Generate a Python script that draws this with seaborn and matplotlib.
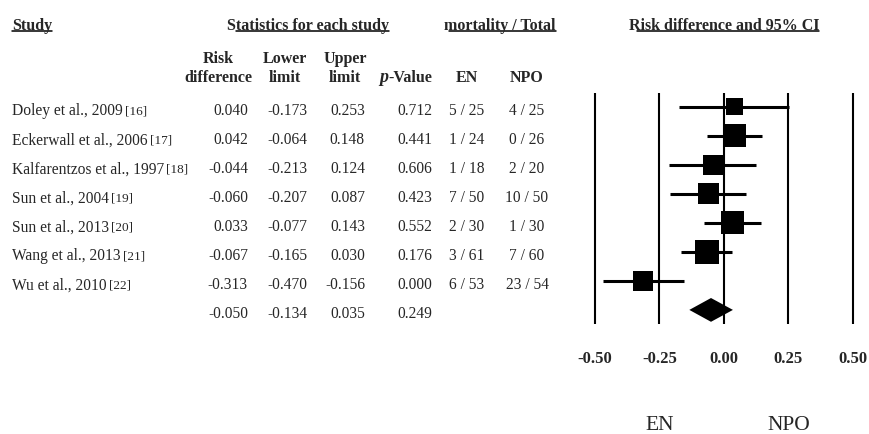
import matplotlib
matplotlib.use("Agg")
import matplotlib.pyplot as plt
import matplotlib.transforms as mtransforms
from matplotlib.lines import Line2D
import seaborn as sns
import numpy as np
import pandas as pd

# ---------------- data ----------------
studies = ["Doley et al., 2009", "Eckerwall et al., 2006", "Kalfarentzos et al., 1997",
           "Sun et al., 2004", "Sun et al., 2013", "Wang et al., 2013", "Wu et al., 2010"]
refs = ["[16]", "[17]", "[18]", "[19]", "[20]", "[21]", "[22]"]
risk_diff = [0.040, 0.042, -0.044, -0.060, 0.033, -0.067, -0.313]
lower = [-0.173, -0.064, -0.213, -0.207, -0.077, -0.165, -0.470]
upper = [0.253, 0.148, 0.124, 0.087, 0.143, 0.030, -0.156]
p_values = [0.712, 0.441, 0.606, 0.423, 0.552, 0.176, 0.000]
en_counts = ["5 / 25", "1 / 24", "1 / 18", "7 / 50", "2 / 30", "3 / 61", "6 / 53"]
npo_counts = ["4 / 25", "0 / 26", "2 / 20", "10 / 50", "1 / 30", "7 / 60", "23 / 54"]
weights = [9.1, 16.7, 12.6, 13.9, 16.7, 18.2, 12.6]   # relative weight (%)
summary_rd = -0.050
summary_lower = -0.134
summary_upper = 0.035
summary_p = 0.249
x_ticks = [-0.50, -0.25, 0.00, 0.25, 0.50]
x_tick_labels = ["-0.50", "-0.25", "0.00", "0.25", "0.50"]
favours = ["EN", "NPO"]
favours_x = [-0.25, 0.25]

# ---------------- style ----------------
sns.set_theme(style="white")
plt.rcParams["font.family"] = ["Liberation Serif", "DejaVu Serif"]

W, H = 869, 435
fig = plt.figure(figsize=(W / 100, H / 100), dpi=100)
fig.patch.set_facecolor("white")

def fx(px):
    return px / W

def fy(py):
    return 1 - py / H

ax = fig.add_axes([fx(582), fy(325), 283.8 / W, 231 / H])
ax.set_facecolor("white")

n = len(studies)
rows = np.arange(n)
summary_row = n

df = pd.DataFrame({"rd": risk_diff, "row": rows, "w": weights})

# vertical reference lines
for xt in x_ticks:
    ax.axvline(xt, color="black", lw=1.5, zorder=1)

# confidence intervals
ax.hlines(rows, lower, upper, color="black", lw=2.2, zorder=2)

# squares sized by weight
k = 16.4
sns.scatterplot(data=df, x="rd", y="row", size="w",
                sizes=(min(weights) * k, max(weights) * k),
                size_norm=(min(weights), max(weights)),
                marker="s", color="black", linewidth=0, legend=False,
                ax=ax, zorder=3)

# summary diamond
half_h = 0.41
ax.fill([summary_lower, summary_rd, summary_upper, summary_rd],
        [summary_row, summary_row - half_h, summary_row, summary_row + half_h],
        color="black", lw=0, zorder=3)

ax.set_xlim(-0.55, 0.55)
ax.set_ylim(7.486, -0.48)
ax.set_xticks(x_ticks)
ax.set_xticklabels(x_tick_labels, fontweight="bold", fontsize=12)
ax.set_yticks([])
ax.tick_params(axis="x", length=0, pad=18.5)
ax.set_xlabel("")
ax.set_ylabel("")
for s in ax.spines.values():
    s.set_visible(False)

# favours labels
tr_fav = mtransforms.blended_transform_factory(ax.transData, fig.transFigure)
for lab, xv in zip(favours, favours_x):
    ax.text(xv, fy(430), lab, transform=tr_fav, ha="center", va="baseline",
            fontsize=15.5)

# ---------------- table ----------------
tr_row = mtransforms.blended_transform_factory(fig.transFigure, ax.transData)
body = 11.2
boff = 0.25  # baseline offset in rows

col_rd, col_lo, col_up, col_p = 248, 307, 365, 432
col_en, col_npo = 467, 527

for i in range(n):
    y = rows[i] + boff
    t = ax.text(fx(12), y, studies[i], transform=tr_row, ha="left",
                va="baseline", fontsize=body)
    ax.annotate(refs[i], xy=(1, 0), xycoords=t, xytext=(1.5, 1.5),
                textcoords="offset points", ha="left", va="bottom",
                fontsize=9.5)
    ax.text(fx(col_rd), y, f"{risk_diff[i]:.3f}", transform=tr_row,
            ha="right", va="baseline", fontsize=body)
    ax.text(fx(col_lo), y, f"{lower[i]:.3f}", transform=tr_row,
            ha="right", va="baseline", fontsize=body)
    ax.text(fx(col_up), y, f"{upper[i]:.3f}", transform=tr_row,
            ha="right", va="baseline", fontsize=body)
    ax.text(fx(col_p), y, f"{p_values[i]:.3f}", transform=tr_row,
            ha="right", va="baseline", fontsize=body)
    ax.text(fx(col_en), y, en_counts[i], transform=tr_row,
            ha="center", va="baseline", fontsize=body)
    ax.text(fx(col_npo), y, npo_counts[i], transform=tr_row,
            ha="center", va="baseline", fontsize=body)

ys = summary_row + boff
for val, col in zip([summary_rd, summary_lower, summary_upper, summary_p],
                    [col_rd, col_lo, col_up, col_p]):
    ax.text(fx(col), ys, f"{val:.3f}", transform=tr_row, ha="right",
            va="baseline", fontsize=body)

# ---------------- headers ----------------
hs = 11.5
top_base = 29.5
tr_head = mtransforms.blended_transform_factory(ax.transData, fig.transFigure)
h_study = fig.text(fx(12), fy(top_base), "Study", ha="left", va="baseline",
                   fontsize=hs, fontweight="bold")
h_stats = fig.text(fx(308), fy(top_base), "Statistics for each study", ha="center",
                   va="baseline", fontsize=hs, fontweight="bold")
h_mort = fig.text(fx(500), fy(top_base), "mortality / Total", ha="center",
                  va="baseline", fontsize=hs, fontweight="bold")
h_ci = ax.text(0.0, fy(top_base), "Risk difference and 95% CI", transform=tr_head,
               ha="center", va="baseline", fontsize=hs, fontweight="bold")

l1, l2 = 63, 82
for xc, a, b in [(218, "Risk", "difference"), (285, "Lower", "limit"),
                 (345, "Upper", "limit")]:
    fig.text(fx(xc), fy(l1), a, ha="center", va="baseline", fontsize=hs,
             fontweight="bold")
    fig.text(fx(xc), fy(l2), b, ha="center", va="baseline", fontsize=hs,
             fontweight="bold")
fig.text(fx(388.5), fy(l2), "p", ha="right", va="baseline", fontsize=13,
         fontweight="bold", fontstyle="italic")
fig.text(fx(388.5), fy(l2), "-Value", ha="left", va="baseline", fontsize=hs,
         fontweight="bold")
fig.text(fx(col_en), fy(l2), "EN", ha="center", va="baseline", fontsize=hs,
         fontweight="bold")
fig.text(fx(col_npo), fy(l2), "NPO", ha="center", va="baseline", fontsize=hs,
         fontweight="bold")

# underlines
fig.canvas.draw()
renderer = fig.canvas.get_renderer()
for t, off in [(h_study, 0), (h_stats, 9), (h_mort, 5), (h_ci, 8)]:
    bb = t.get_window_extent(renderer)
    yline = fy(top_base + 2.8)
    fig.add_artist(Line2D([fx(bb.x0 + off), fx(bb.x1)], [yline, yline],
                          transform=fig.transFigure, color="black", lw=1.1))

fig.savefig("out.png", dpi=100, facecolor="white")
